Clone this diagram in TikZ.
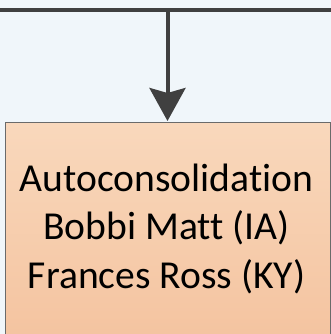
\documentclass[tikz,border=0pt]{standalone}
\usepackage{fontspec}
\setmainfont{Carlito}[Ligatures=NoCommon]
\usetikzlibrary{arrows.meta}
\definecolor{bgcol}{HTML}{F0F6FA}
\definecolor{linecol}{HTML}{404040}
\definecolor{boxtop}{HTML}{F9D8BC}
\definecolor{boxbot}{HTML}{F4C39F}
\definecolor{boxedge}{HTML}{6A6A6A}
\tikzset{
  conn/.style={draw=linecol, line width=4pt},
  arrowconn/.style={conn, -{Stealth[length=33pt, width=36pt, inset=5pt]}},
  orgbox/.style={draw=boxedge, line width=1pt, top color=boxtop, bottom color=boxbot, inner sep=0pt},
  boxtext/.style={font=\fontsize{39.6}{48.3}\selectfont, align=center, inner sep=0pt, text=black}
}
\begin{document}
\begin{tikzpicture}[x=1pt,y=1pt]
\useasboundingbox (0,0) rectangle (331,334);
\clip (0,0) rectangle (331,334);
\fill[bgcol] (0,0) rectangle (331,334);
\node[orgbox, minimum width=324.5pt, minimum height=222pt, anchor=north west] (box) at (5,212) {};
\node[boxtext, anchor=base] (txt) at (166.5,45.7) {Autoconsolidation\\Bobbi Matt (IA)\\Frances Ross (KY)};
\coordinate (left) at (-5,324.3);
\coordinate (right) at (336,324.3);
\coordinate (junction) at (167.5,324.3);
\draw[conn] (left) -- (right);
\draw[arrowconn] (junction) -- ([yshift=1pt]box.north -| junction);
\end{tikzpicture}
\end{document}
